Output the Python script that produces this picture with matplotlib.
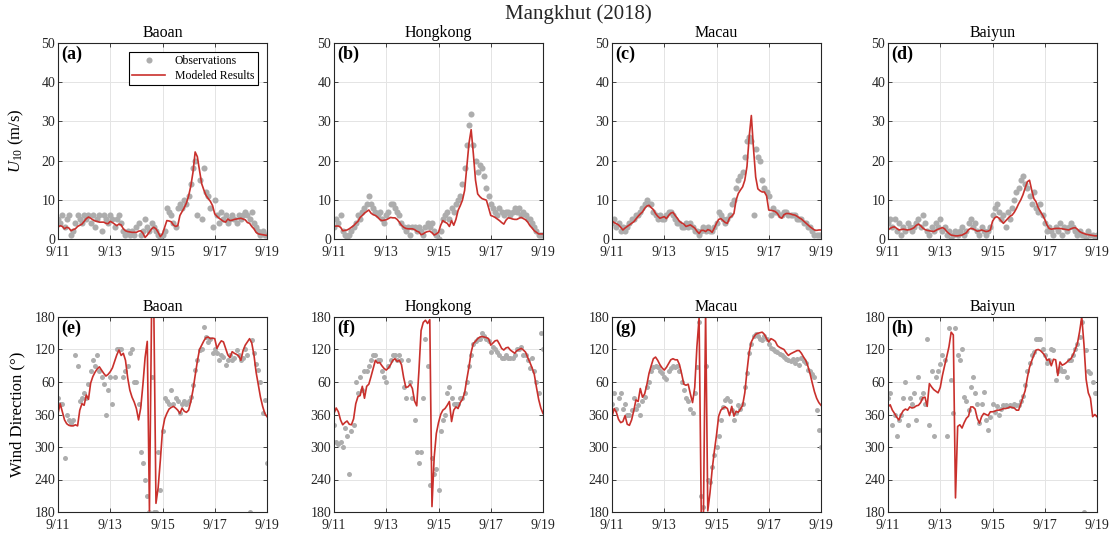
import matplotlib.pyplot as plt
import numpy as np

plt.rcParams["font.family"] = ["Liberation Serif", "DejaVu Serif"]
plt.rcParams["mathtext.fontset"] = "custom"
plt.rcParams["mathtext.rm"] = "Liberation Serif"
plt.rcParams["mathtext.it"] = "Liberation Serif:italic"

RED = "#c9302c"
OBS_GRAY = "#adadad"
GRID = "#e4e4e4"
INK = "#262626"

stations = ["Baoan", "Hongkong", "Macau", "Baiyun"]
speed_tags = ["(a)", "(b)", "(c)", "(d)"]
dir_tags = ["(e)", "(f)", "(g)", "(h)"]
date_ticks = [11, 13, 15, 17, 19]
date_labels = ["9/11", "9/13", "9/15", "9/17", "9/19"]
speed_ticks = [0, 10, 20, 30, 40, 50]
dir_ticks = [180, 240, 300, 360, 420, 480, 540]
dir_labels = ["180", "240", "300", "360", "60", "120", "180"]

# 2-hourly samples from 9/11 00:00 to 9/19 00:00 (x axis = day of September)
hours = np.arange(0, 193, 2)
days = 11 + hours / 24

# ---- wind speed U10 (m/s) ----
baoan_spd_obs = [
    5, 4, 6, 3, 5, 6, 1, 2, 4, 6, 5, 4,
    6, 5, 6, 4, 6, 3, 5, 6, 2, 6, 5, 4,
    6, 5, 3, 5, 6, 4, 2, 1, 2, 1, 2, 1,
    3, 4, 1, 2, 5, 3, 2, 4, 3, 2, 1, 0,
    1, 2, 8, 7, 6, 4, 3, 8, 9, 8, 10, 9,
    11, 14, 18, 20, 6, 15, 5, 18, 12, 11, 8, 3,
    10, 6, 4, 7, 5, 6, 4, 5, 6, 5, 4, 6,
    5, 6, 7, 6, 5, 7, 4, 3, 2, 1, 2, 1,
    1]
baoan_spd_mod = [
    3.0, 3.4, 3.2, 2.6, 3.0, 2.8, 2.1, 2.4, 2.6, 3.2, 3.5, 3.8,
    4.5, 5.2, 5.6, 5.3, 4.9, 4.6, 4.5, 4.3, 4.3, 4.3, 4.0, 3.9,
    4.5, 4.2, 3.8, 3.4, 3.8, 3.6, 2.6, 2.1, 1.9, 1.8, 1.7, 1.7,
    1.7, 2.0, 2.1, 1.5, 0.4, 1.0, 1.8, 2.6, 3.0, 2.6, 1.7, 0.6,
    1.3, 3.0, 4.7, 4.6, 4.4, 3.6, 3.2, 3.4, 6.0, 7.0, 8.0, 9.2,
    11.0, 13.5, 17.0, 22.2, 21.0, 17.5, 14.1, 12.5, 11.1, 10.3, 9.6, 8.5,
    6.4, 5.8, 5.3, 4.9, 4.5, 4.3, 5.1, 4.7, 4.8, 5.0, 5.1, 5.2,
    5.3, 5.1, 4.9, 4.2, 4.0, 3.2, 2.6, 1.7, 1.3, 1.2, 1.1, 1.0,
    0.9]

hk_spd_obs = [
    3, 5, 4, 6, 2, 1, 0, 1, 2, 3, 4, 6,
    5, 7, 8, 9, 11, 9, 8, 7, 6, 7, 5, 4,
    6, 7, 9, 9, 8, 7, 6, 4, 3, 2, 3, 1,
    3, 3, 2, 3, 2, 1, 3, 4, 3, 4, 2, 1,
    0, 2, 5, 6, 7, 5, 8, 7, 9, 10, 11, 14,
    18, 24, 29, 32, 24, 20, 17, 19, 18, 16, 13, 11,
    9, 8, 7, 6, 8, 7, 6, 7, 7, 6, 7, 8,
    7, 8, 6, 7, 6, 5, 5, 4, 3, 2, 1, 1,
    1]
hk_spd_mod = [
    3.2, 3.3, 3.3, 3.0, 2.1, 2.2, 2.3, 2.6, 3.0, 3.4, 4.0, 4.5,
    5.5, 6.0, 6.6, 7.0, 7.4, 6.6, 6.2, 6.0, 5.6, 5.0, 4.7, 4.8,
    4.9, 5.2, 5.5, 5.4, 5.4, 5.0, 4.3, 3.5, 3.0, 2.7, 2.6, 2.6,
    2.6, 2.4, 2.0, 1.8, 1.1, 1.3, 1.7, 1.9, 2.0, 1.6, 1.0, 1.3,
    1.7, 3.5, 4.7, 4.3, 4.0, 3.2, 4.7, 3.5, 5.0, 7.3, 8.5, 9.9,
    12.4, 18.4, 24.4, 27.9, 21.8, 15.0, 11.5, 10.8, 10.3, 10.1, 9.9, 8.0,
    6.0, 5.8, 5.5, 5.1, 4.7, 4.2, 3.8, 4.8, 5.4, 5.3, 5.1, 5.0,
    5.0, 5.3, 5.5, 5.2, 4.9, 4.3, 3.4, 2.8, 2.1, 1.7, 1.3, 1.3,
    1.3]

macau_spd_obs = [
    4, 5, 3, 4, 2, 3, 2, 3, 4, 5, 5, 6,
    6, 7, 8, 9, 10, 9, 9, 7, 6, 5, 6, 5,
    5, 6, 7, 7, 6, 5, 4, 4, 3, 3, 4, 3,
    4, 3, 2, 2, 1, 2, 3, 2, 3, 2, 2, 3,
    4, 7, 6, 5, 4, 5, 6, 9, 10, 13, 15, 16,
    17, 21, 25, 26, 25, 6, 23, 21, 20, 15, 13, 12,
    11, 6, 8, 7, 7, 6, 6, 7, 7, 6, 6, 6,
    6, 5, 5, 5, 4, 4, 3, 3, 2, 1, 1, 1,
    1]
macau_spd_mod = [
    4.6, 4.2, 3.9, 3.6, 3.0, 2.3, 2.8, 3.2, 3.6, 4.0, 4.4, 5.1,
    5.8, 6.4, 6.9, 7.8, 8.4, 8.6, 8.0, 7.5, 6.5, 5.8, 5.3, 5.5,
    5.7, 5.2, 6.0, 6.6, 6.8, 6.0, 5.3, 4.5, 4.1, 3.8, 3.2, 3.4,
    3.6, 3.2, 2.8, 2.0, 1.4, 2.2, 2.2, 1.9, 2.4, 2.2, 1.7, 2.8,
    4.0, 5.0, 5.2, 4.7, 4.2, 4.0, 5.4, 5.8, 6.5, 9.9, 11.6, 12.5,
    13.3, 15.0, 18.5, 26.0, 31.5, 23.0, 15.8, 12.8, 12.3, 12.0, 12.0, 11.0,
    7.4, 7.3, 7.2, 7.0, 6.5, 5.6, 5.3, 6.2, 6.5, 6.5, 6.4, 6.2,
    6.1, 5.8, 5.4, 5.1, 4.6, 4.1, 3.6, 3.1, 2.7, 2.3, 2.2, 2.3,
    2.3]

baiyun_spd_obs = [
    4, 5, 3, 5, 2, 4, 1, 3, 2, 4, 3, 2,
    3, 4, 5, 3, 6, 4, 2, 1, 3, 2, 4, 3,
    5, 2, 3, 1, 2, 0, 1, 2, 1, 2, 3, 1,
    2, 4, 5, 3, 4, 2, 1, 3, 2, 1, 2, 3,
    6, 8, 9, 7, 5, 6, 3, 7, 5, 8, 10, 12,
    13, 15, 16, 14, 13, 11, 9, 12, 8, 7, 9, 6,
    4, 2, 3, 2, 1, 3, 2, 4, 1, 3, 2, 3,
    4, 3, 2, 1, 2, 1, 1, 0, 2, 1, 1, 0,
    1]
baiyun_spd_mod = [
    2.3, 2.7, 3.0, 3.1, 2.7, 2.3, 2.4, 2.5, 2.4, 2.3, 2.4, 2.6,
    2.9, 3.5, 3.8, 3.4, 2.8, 2.4, 2.2, 2.1, 2.0, 1.9, 2.2, 2.5,
    2.7, 2.9, 2.6, 1.9, 1.4, 1.0, 0.9, 0.8, 0.8, 0.9, 1.0, 1.3,
    1.6, 2.4, 2.7, 2.6, 2.3, 2.0, 2.1, 2.3, 2.1, 1.9, 2.0, 2.3,
    4.5, 5.4, 5.7, 5.3, 4.6, 4.0, 4.6, 5.2, 5.8, 6.1, 6.8, 7.8,
    9.0, 10.0, 11.3, 13.0, 14.6, 15.0, 12.5, 10.3, 9.5, 8.0, 7.0, 6.1,
    5.0, 3.6, 2.7, 2.5, 2.6, 2.7, 2.7, 2.7, 2.6, 2.5, 2.4, 2.3,
    2.6, 2.8, 2.9, 2.5, 1.9, 1.6, 1.4, 1.2, 1.1, 1.0, 0.9, 0.8,
    0.8]

# ---- wind direction (deg, unwrapped: 420 = 60 deg, 480 = 120 deg, ...) ----
baoan_dir_obs = [
    390, 380, 380, 280, 360, 350, 345, 350, 470, 450, 385, 390,
    400, 390, 417, 440, 460, 450, 470, 440, 430, 417, 360, 405,
    430, 380, 430, 480, 480, 480, 430, 440, 450, 473, 480, 420,
    420, 380, 290, 270, 240, 210, 180, 430, 180, 180, 290, 220,
    330, 390, 385, 380, 405, 380, 390, 385, 362, 380, 385, 380,
    385, 393, 414, 442, 460, 479, 480, 522, 503, 494, 500, 473,
    480, 473, 460, 470, 466, 451, 460, 470, 460, 465, 479, 470,
    460, 465, 480, 470, 180, 497, 473, 454, 442, 420, 362, 387,
    270]
baoan_dir_mod = [
    362, 380, 365, 350, 343, 340, 339, 339, 341, 339, 368, 380,
    377, 396, 388, 418, 430, 438, 444, 448, 442, 436, 431, 434,
    439, 446, 458, 470, 479, 469, 473, 460, 428, 405, 392, 383,
    371, 350, 372, 415, 465, 495, 182, 560, 560, 196, 225, 275,
    331, 352, 362, 370, 373, 375, 372, 368, 362, 372, 366, 364,
    368, 384, 405, 432, 458, 480, 488, 496, 502, 503, 500, 501,
    500, 482, 490, 496, 494, 482, 470, 465, 476, 473, 471, 468,
    460, 478, 488, 494, 500, 492, 470, 438, 415, 392, 375, 362,
    356]

hk_dir_obs = [
    340, 310, 305, 310, 300, 335, 320, 250, 330, 340, 420, 400,
    430, 405, 440, 440, 450, 460, 470, 470, 460, 460, 440, 430,
    420, 450, 460, 470, 470, 460, 470, 460, 410, 390, 460, 420,
    390, 350, 290, 270, 290, 390, 500, 450, 230, 280, 250, 260,
    220, 330, 350, 360, 400, 410, 390, 380, 380, 380, 390, 390,
    400, 420, 450, 470, 490, 495, 500, 500, 510, 505, 500, 495,
    475, 485, 480, 475, 470, 465, 465, 470, 465, 465, 465, 470,
    480, 480, 485, 470, 470, 460, 445, 465, 440, 420, 400, 510,
    480]
hk_dir_mod = [
    362, 372, 365, 350, 341, 345, 348, 342, 341, 352, 380, 393,
    395, 412, 390, 412, 416, 430, 445, 460, 455, 456, 450, 445,
    442, 446, 452, 460, 463, 458, 460, 452, 428, 410, 411, 416,
    408, 385, 376, 440, 515, 530, 534, 528, 535, 190, 280, 325,
    345, 360, 368, 371, 377, 384, 347, 368, 374, 371, 382, 388,
    400, 425, 448, 475, 491, 495, 500, 503, 504, 503, 502, 500,
    488, 492, 496, 497, 490, 482, 479, 483, 484, 479, 476, 473,
    478, 480, 482, 479, 475, 465, 456, 446, 434, 410, 388, 372,
    362]

macau_dir_obs = [
    380, 400, 370, 390, 400, 370, 380, 360, 360, 368, 390, 370,
    377, 360, 385, 392, 411, 420, 440, 448, 450, 448, 440, 436,
    430, 425, 440, 445, 450, 448, 450, 440, 420, 405, 390, 385,
    370, 362, 400, 448, 530, 210, 190, 450, 240, 235, 264, 285,
    300, 320, 350, 374, 387, 390, 385, 368, 350, 362, 377, 370,
    380, 410, 436, 473, 491, 505, 509, 505, 500, 497, 505, 500,
    490, 482, 480, 478, 476, 472, 469, 466, 462, 460, 458, 462,
    455, 462, 451, 465, 458, 455, 442, 440, 435, 430, 368, 331,
    300]
macau_dir_mod = [
    356, 371, 364, 351, 345, 347, 358, 342, 340, 350, 367, 387,
    384, 408, 392, 398, 415, 436, 450, 463, 466, 460, 452, 446,
    442, 447, 454, 461, 463, 461, 461, 452, 435, 416, 414, 416,
    398, 382, 410, 485, 538, 175, 175, 550, 182, 215, 258, 292,
    322, 357, 368, 372, 374, 371, 358, 375, 357, 366, 364, 370,
    377, 400, 440, 475, 494, 502, 508, 510, 511, 512, 508, 500,
    494, 500, 498, 495, 487, 484, 482, 480, 474, 469, 472, 474,
    476, 478, 478, 473, 466, 460, 449, 435, 418, 402, 390, 382,
    377]

baiyun_dir_obs = [
    390, 400, 340, 360, 320, 350, 360, 390, 420, 340, 390, 380,
    400, 350, 430, 390, 400, 380, 500, 340, 440, 320, 430, 440,
    454, 470, 460, 320, 520, 423, 362, 520, 470, 460, 480, 393,
    385, 368, 411, 430, 400, 380, 344, 380, 402, 350, 331, 355,
    380, 365, 375, 360, 370, 378, 378, 375, 378, 376, 380, 378,
    378, 385, 395, 415, 440, 455, 470, 475, 500, 500, 500, 480,
    470, 455, 460, 480, 479, 423, 440, 445, 440, 440, 430, 460,
    460, 470, 480, 490, 503, 531, 180, 479, 440, 436, 420, 400,
    399]
baiyun_dir_mod = [
    374, 378, 368, 362, 355, 350, 360, 367, 370, 368, 374, 372,
    373, 376, 377, 382, 391, 392, 375, 417, 411, 406, 403, 400,
    410, 432, 450, 467, 485, 512, 507, 206, 338, 341, 335, 345,
    353, 357, 374, 374, 370, 353, 344, 356, 362, 360, 358, 365,
    365, 366, 368, 368, 369, 371, 371, 372, 374, 373, 372, 368,
    368, 380, 392, 404, 428, 447, 459, 470, 479, 480, 478, 474,
    469, 460, 462, 450, 462, 461, 432, 457, 451, 453, 456, 460,
    463, 470, 480, 491, 513, 540, 490, 425, 400, 390, 356, 360,
    356]

spd_obs = [baoan_spd_obs, hk_spd_obs, macau_spd_obs, baiyun_spd_obs]
spd_mod = [baoan_spd_mod, hk_spd_mod, macau_spd_mod, baiyun_spd_mod]
dir_obs = [baoan_dir_obs, hk_dir_obs, macau_dir_obs, baiyun_dir_obs]
dir_mod = [baoan_dir_mod, hk_dir_mod, macau_dir_mod, baiyun_dir_mod]

W, H = 1115, 543
fig = plt.figure(figsize=(W / 100, H / 100), dpi=100)

col_left = [58, 334, 612, 888]   # pixel positions of the panels
ax_w = 209


def style(ax, tag):
    ax.set_xlim(11, 19)
    ax.set_xticks(date_ticks)
    ax.set_xticklabels(date_labels)
    ax.grid(True, color=GRID, linewidth=0.7)
    ax.set_axisbelow(True)
    ax.tick_params(direction="in", top=True, right=True, length=3, width=0.6,
                   labelsize=10, colors=INK)
    ax.tick_params(axis="x", pad=5)
    ax.tick_params(axis="y", pad=2)
    for s in ax.spines.values():
        s.set_color(INK)
        s.set_linewidth(0.8)
    ax.text(0.015, 0.985, tag, transform=ax.transAxes, ha="left", va="top",
            fontsize=13, fontweight="bold", color="black")


for k, name in enumerate(stations):
    # top row: wind speed
    ax = fig.add_axes([col_left[k] / W, (H - 239) / H, ax_w / W, 196 / H])
    ax.plot(days, spd_obs[k], "o", color=OBS_GRAY, ms=4.4, mec="none",
            label="Observations")
    ax.plot(days, spd_mod[k], color=RED, lw=1.2, label="Modeled Results")
    ax.set_ylim(0, 50)
    ax.set_yticks(speed_ticks)
    ax.set_title(name, fontsize=11.5, pad=4)
    style(ax, speed_tags[k])
    if k == 0:
        ax.set_ylabel(r"$U_{10}$ (m/s)", fontsize=12)
        ax.yaxis.set_label_coords(-0.155, 0.5)
        leg = ax.legend(loc="upper right", bbox_to_anchor=(0.955, 0.955),
                        fontsize=8.5, fancybox=False, framealpha=1,
                        edgecolor="black", borderpad=0.3, handlelength=2.8,
                        labelspacing=0.2, borderaxespad=0)
        leg.get_frame().set_linewidth(0.8)

    # bottom row: wind direction
    ax = fig.add_axes([col_left[k] / W, (H - 512) / H, ax_w / W, 195 / H])
    ax.plot(days, dir_obs[k], "o", color=OBS_GRAY, ms=3.6, mec="none")
    ax.plot(days, dir_mod[k], color=RED, lw=1.2)
    ax.set_ylim(180, 540)
    ax.set_yticks(dir_ticks)
    ax.set_yticklabels(dir_labels)
    ax.set_title(name, fontsize=11.5, pad=4)
    style(ax, dir_tags[k])
    if k == 0:
        ax.set_ylabel("Wind Direction (°)", fontsize=12)
        ax.yaxis.set_label_coords(-0.155, 0.5)

fig.text(0.519, 1 - 14 / H, "Mangkhut (2018)", ha="center", va="center",
         fontsize=15, color=INK)

plt.savefig("out.png", dpi=100, facecolor="white")
